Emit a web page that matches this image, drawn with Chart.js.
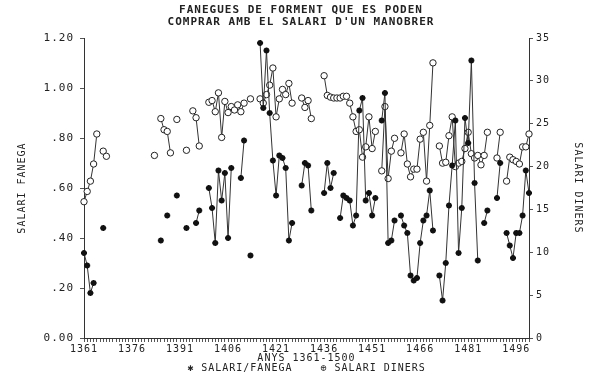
<!DOCTYPE html>
<html>
<head>
<meta charset="utf-8">
<script src="https://cdn.jsdelivr.net/npm/chart.js@4.4.1/dist/chart.umd.min.js"></script>
<style>
body { margin: 0; background: #fff; }
#wrap { width: 602px; height: 376px; }
</style>
</head>
<body>
<div id="wrap"><canvas id="chart" width="602" height="376"></canvas></div>
<script>
const firstYear = 1361;
const tickYears = [1361, 1376, 1391, 1406, 1421, 1436, 1451, 1466, 1481, 1496];

// one value per year, 1361..1500 (null = no data)
const salariFanega = [
    0.34, 0.29, 0.18, 0.22, null, null, 0.44, null, null, null,   // 1361
    null, null, null, null, null, null, null, null, null, null,   // 1371
    null, null, null, null, 0.39, null, 0.49, null, null, 0.57,   // 1381
    null, null, 0.44, null, null, 0.46, 0.51, null, null, 0.60,   // 1391
    0.52, 0.38, 0.67, 0.55, 0.66, 0.40, 0.68, null, null, 0.64,   // 1401
    0.79, null, 0.33, null, null, 1.18, 0.92, 1.15, 0.90, 0.71,   // 1411
    0.57, 0.73, 0.72, 0.68, 0.39, 0.46, null, null, 0.61, 0.70,   // 1421
    0.69, 0.51, null, null, null, 0.58, 0.70, 0.60, 0.66, null,   // 1431
    0.48, 0.57, 0.56, 0.55, 0.45, 0.49, 0.91, 0.96, 0.55, 0.58,   // 1441
    0.49, 0.56, null, 0.87, 0.98, 0.38, 0.39, 0.47, null, 0.49,   // 1451
    0.45, 0.42, 0.25, 0.23, 0.24, 0.38, 0.47, 0.49, 0.59, 0.43,   // 1461
    null, 0.25, 0.15, 0.30, 0.53, 0.69, 0.87, 0.34, 0.52, 0.88,   // 1471
    0.78, 1.11, 0.62, 0.31, null, 0.46, 0.51, null, null, 0.56,   // 1481
    0.70, null, 0.42, 0.37, 0.32, 0.42, 0.42, 0.49, 0.67, 0.58    // 1491
];

const salariDiners = [
    15.9, 17.1, 18.3, 20.3, 23.8, null, 21.8, 21.2, null, null,   // 1361
    null, null, null, null, null, null, null, null, null, null,   // 1371
    null, null, 21.3, null, 25.6, 24.3, 24.1, 21.6, null, 25.5,   // 1381
    null, null, 21.9, null, 26.5, 25.7, 22.4, null, null, 27.5,   // 1391
    27.7, 26.4, 28.6, 23.4, 27.6, 26.3, 27.0, 26.6, 27.2, 26.4,   // 1401
    27.4, null, 27.9, null, null, 27.9, 27.4, 28.4, 29.5, 31.5,   // 1411
    25.8, 27.9, 29.0, 28.4, 29.7, 27.4, null, null, 28.0, 26.9,   // 1421
    27.7, 25.6, null, null, null, 30.6, 28.3, 28.1, 28.0, 28.0,   // 1431
    28.0, 28.2, 28.2, 27.4, 25.8, 24.1, 24.3, 21.1, 22.3, 25.8,   // 1441
    22.1, 24.1, null, 19.5, 27.0, 18.6, 21.8, 23.3, null, 21.6,   // 1451
    23.8, 20.3, 18.8, 19.7, 19.7, 23.2, 24.0, 18.3, 24.8, 32.1,   // 1461
    null, 22.4, 20.4, 20.5, 23.6, 25.8, 20.0, 20.4, 20.6, 22.1,   // 1471
    24.0, 21.5, 21.0, 21.3, 20.2, 21.3, 24.0, null, null, 21.0,   // 1481
    24.0, null, 18.3, 21.1, 20.8, 20.6, 20.3, 22.3, 22.3, 23.8    // 1491
];

const years = salariFanega.map((v, i) => String(firstYear + i));

const monoFont = "'DejaVu Sans Mono', monospace";
const ink = '#333';
const textInk = '#222';

// the old plotter font is spaced out a bit
const letterSpacing = {
    id: 'letterSpacing',
    beforeDraw(chart) {
        chart.ctx.letterSpacing = '1px';
    }
};

function fanegaTick(value) {
    const v = Math.round(value * 100) / 100;
    if (v === 0) return '0.00';
    const s = v.toFixed(2);
    return v < 1 ? s.slice(1) : s;
}

const ctx = document.getElementById('chart').getContext('2d');
new Chart(ctx, {
    type: 'line',
    data: {
        labels: years,
        datasets: [{
            label: 'SALARI/FANEGA',
            data: salariFanega,
            yAxisID: 'y',
            borderColor: ink,
            borderWidth: 1,
            pointStyle: 'star',
            pointRadius: 3,
            pointBorderWidth: 1.8,
            pointBorderColor: '#111',
            pointBackgroundColor: '#111',
            tension: 0
        }, {
            label: 'SALARI DINERS',
            data: salariDiners,
            yAxisID: 'y1',
            borderColor: ink,
            borderWidth: 1,
            pointStyle: 'circle',
            pointRadius: 3.2,
            pointBorderWidth: 1,
            pointBorderColor: '#222',
            pointBackgroundColor: '#fff',
            tension: 0
        }]
    },
    options: {
        responsive: false,
        animation: false,
        devicePixelRatio: 1,
        layout: { padding: 0 },
        plugins: {
            legend: { display: false },
            tooltip: { enabled: false },
            title: {
                display: true,
                text: ['FANEGUES DE FORMENT QUE ES PODEN', "COMPRAR AMB EL SALARI D'UN MANOBRER"],
                color: textInk,
                font: { family: monoFont, size: 11, lineHeight: 1.1 },
                padding: { top: 4, bottom: 9.8 }
            }
        },
        scales: {
            x: {
                type: 'category',
                offset: false,
                afterFit(scale) { scale.height = 38; },
                border: { display: true, color: ink, width: 1 },
                grid: { drawOnChartArea: false, drawTicks: true, tickLength: 4, color: '#555' },
                ticks: {
                    autoSkip: false,
                    maxRotation: 0,
                    padding: 1,
                    color: textInk,
                    font: { family: monoFont, size: 10 },
                    callback: function (value, index) {
                        const year = firstYear + index;
                        return tickYears.includes(year) ? String(year) : '';
                    }
                },
                title: {
                    display: true,
                    text: ['ANYS 1361-1500', '\u2731 SALARI/FANEGA    \u2295 SALARI DINERS'],
                    color: textInk,
                    font: { family: monoFont, size: 10, lineHeight: 1.05 },
                    padding: { top: 0, bottom: 2 }
                }
            },
            y: {
                position: 'left',
                min: 0,
                max: 1.2,
                afterFit(scale) { scale.width = 84; },
                border: { display: true, color: ink, width: 1 },
                grid: { drawOnChartArea: false, tickLength: 4, color: '#555' },
                ticks: {
                    stepSize: 0.2,
                    padding: 6,
                    color: textInk,
                    font: { family: monoFont, size: 11 },
                    callback: fanegaTick
                },
                title: {
                    display: true,
                    text: 'SALARI FANEGA',
                    color: textInk,
                    font: { family: monoFont, size: 10 },
                    padding: { top: 16, bottom: 0 }
                }
            },
            y1: {
                position: 'right',
                min: 0,
                max: 35,
                afterFit(scale) { scale.width = 73; },
                border: { display: true, color: ink, width: 1 },
                grid: { drawOnChartArea: false, tickLength: 4, color: '#555' },
                ticks: {
                    stepSize: 5,
                    padding: 3,
                    color: textInk,
                    font: { family: monoFont, size: 10 }
                },
                title: {
                    display: true,
                    text: 'SALARI DINERS',
                    color: textInk,
                    font: { family: monoFont, size: 10 },
                    padding: { top: 18, bottom: 0 }
                }
            }
        }
    },
    plugins: [letterSpacing]
});
</script>
</body>
</html>
